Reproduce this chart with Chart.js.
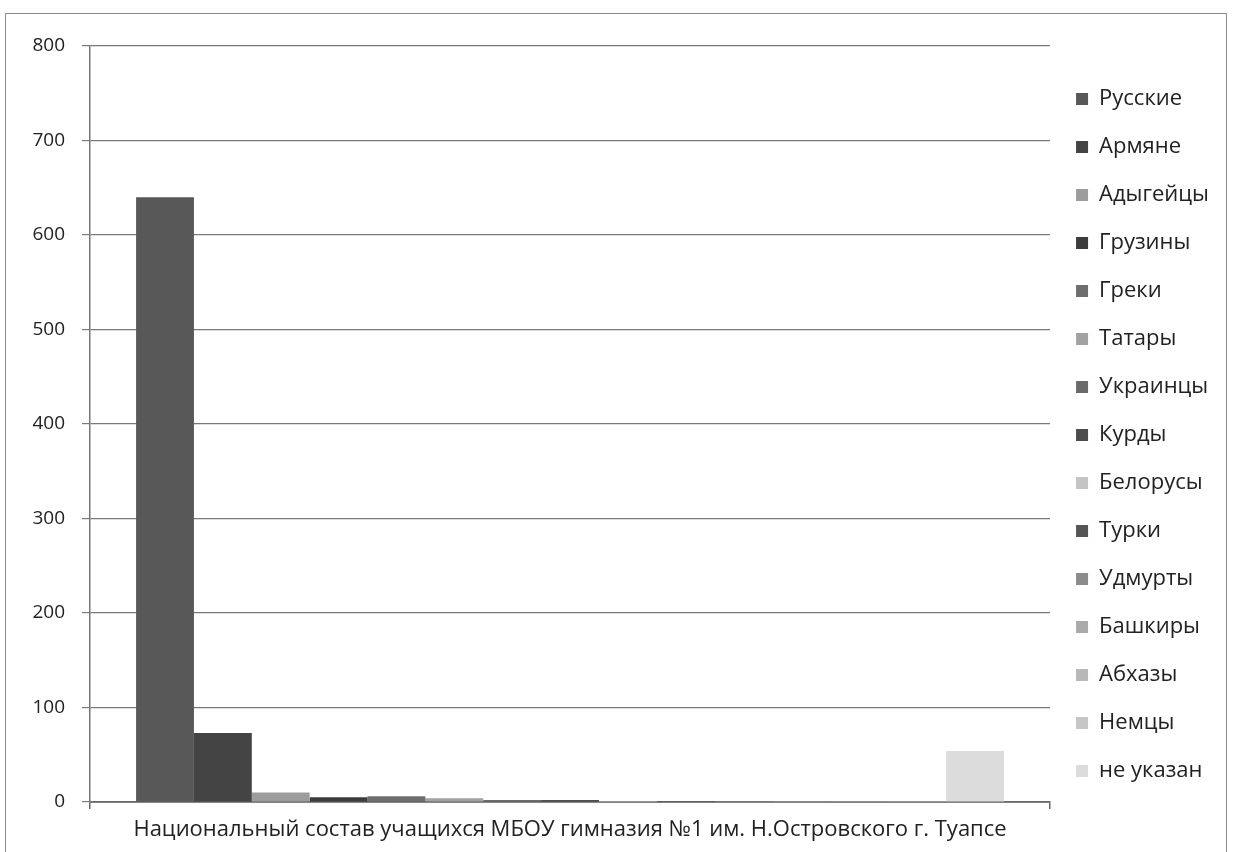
<!DOCTYPE html>
<html lang="ru">
<head>
  <meta charset="UTF-8">
  <title>Национальный состав учащихся</title>
  <script src="https://cdn.jsdelivr.net/npm/chart.js"></script>
  <style>
    html, body { margin: 0; padding: 0; background: #fff; }
    .wrap { position: relative; width: 1233px; height: 852px; overflow: hidden; }
    .frame { position: absolute; left: 5px; top: 13px; width: 1222px; height: 850px; border: 1.5px solid #8c8c8c; box-sizing: border-box; }
    canvas { position: absolute; left: 0; top: 0; }
  </style>
</head>
<body>
  <div class="wrap">
    <div class="frame"></div>
    <canvas id="nationChart" width="1233" height="852"></canvas>
  </div>

  <script>
    const categories = ['Национальный состав учащихся МБОУ гимназия №1 им. Н.Островского г. Туапсе'];
    const nations = ['Русские', 'Армяне', 'Адыгейцы', 'Грузины', 'Греки', 'Татары', 'Украинцы', 'Курды',
                     'Белорусы', 'Турки', 'Удмурты', 'Башкиры', 'Абхазы', 'Немцы', 'не указан'];
    const counts = [640, 73, 10, 5, 6, 4, 2, 2, 1, 1, 1, 1, 1, 1, 54];
    const barColors = ['#585858', '#444444', '#9c9c9c', '#3c3c3c', '#6e6e6e', '#a2a2a2', '#6a6a6a', '#4c4c4c',
                       '#c4c4c4', '#555555', '#8c8c8c', '#aaaaaa', '#b8b8b8', '#c6c6c6', '#dcdcdc'];
    const yTicks = [0, 100, 200, 300, 400, 500, 600, 700, 800];

    const fontFamily = '"Open Sans", "Noto Sans", sans-serif';

    const datasets = nations.map((name, i) => ({
      label: name,
      data: [counts[i]],
      backgroundColor: barColors[i],
      borderWidth: 0,
      categoryPercentage: 0.904,
      barPercentage: 1.0
    }));

    const ctx = document.getElementById('nationChart').getContext('2d');
    new Chart(ctx, {
      type: 'bar',
      data: { labels: categories, datasets },
      options: {
        responsive: false,
        animation: false,
        layout: { padding: { top: 18, right: 14, bottom: 0, left: 10 } },
        plugins: {
          tooltip: { enabled: false },
          legend: {
            position: 'right',
            labels: {
              boxWidth: 12,
              boxHeight: 12,
              padding: 26,
              color: '#222',
              font: { family: fontFamily, size: 22 }
            }
          }
        },
        scales: {
          x: {
            grid: { drawOnChartArea: false, drawTicks: true, tickLength: 7, color: '#666', lineWidth: 1.5 },
            border: { display: true, color: '#666', width: 1.8 },
            ticks: { color: '#222', padding: 8, font: { family: fontFamily, size: 22 } },
            afterFit: scale => { scale.height = 50; }
          },
          xTop: {
            type: 'category',
            position: 'top',
            grid: { display: false },
            border: { display: false },
            ticks: { display: false },
            afterFit: scale => { scale.height = 28; }
          },
          y: {
            min: 0,
            max: 800,
            afterBuildTicks: scale => { scale.ticks = yTicks.map(v => ({ value: v })); },
            grid: { color: '#7a7a7a', lineWidth: 1.2, tickLength: 8 },
            border: { display: true, color: '#777', width: 1.5 },
            ticks: { color: '#222', padding: 17, font: { family: fontFamily, size: 19 } },
            afterFit: scale => { scale.width = 80; }
          }
        }
      }
    });
  </script>
</body>
</html>
